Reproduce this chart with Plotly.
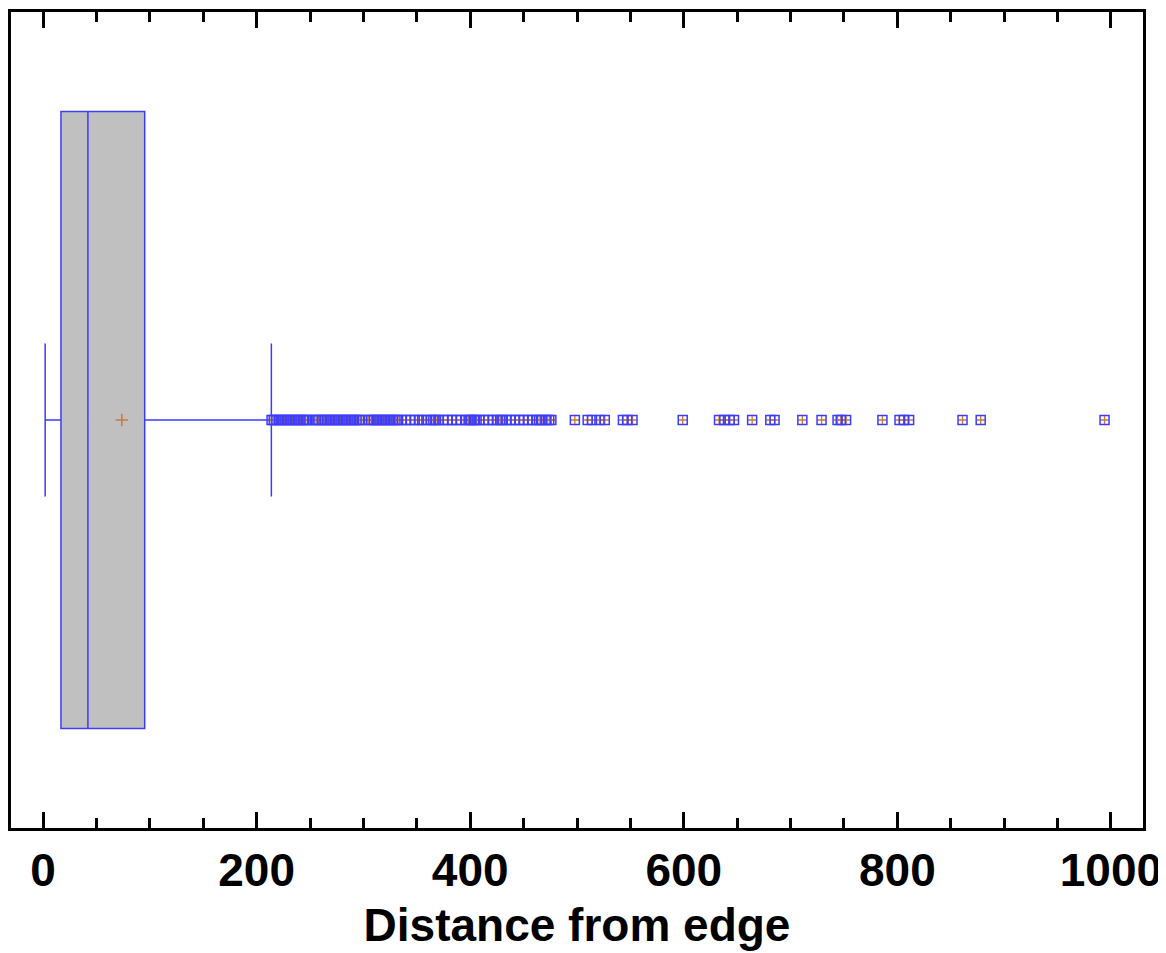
import plotly.graph_objects as go

# Box statistics (Distance from edge)
q1 = [16.8]
median = [42.0]
q3 = [95.2]
lower_fence = [2.0]
upper_fence = [213.8]
mean_value = [73.8]

# Outliers beyond upper whisker
outliers = [
    214, 216, 218.5, 221, 223.5, 226, 228.5, 231, 233.5, 236, 238.5, 241, 243.5, 246, 248.5,
    253, 255.5, 258, 261, 263.5, 266, 268.5, 271, 273.5, 276, 278.5, 281, 283.5, 286, 288.5,
    291, 293.5, 296, 298.5, 305, 307.5, 310, 312.5, 315, 317.5, 320, 322.5, 325, 327.5, 330, 332.5,
    336, 340, 344, 348, 352, 355, 359, 363, 365.5, 368, 370.5, 375, 379, 383, 387, 391, 396,
    398.5, 401, 403.5, 406, 408.5, 413, 417, 421, 425, 428, 430.5, 434, 438, 442, 446, 450,
    454, 458, 462, 464.5, 467, 471, 474, 476,
    498, 510, 514, 521, 526, 543, 547, 552, 599, 633, 638, 643, 647, 664, 681, 685, 711,
    729, 744, 747, 752, 786, 802, 806, 811, 861, 878, 994,
]

x_tick_vals = [0, 200, 400, 600, 800, 1000]
x_tick_text = ["0", "200", "400", "600", "800", "1000"]

BLUE = "rgb(60,60,255)"
ORANGE = "rgb(200,120,60)"

fig = go.Figure()
fig.add_trace(go.Box(
    y=[0], q1=q1, median=median, q3=q3,
    lowerfence=lower_fence, upperfence=upper_fence,
    orientation="h", boxpoints=False,
    fillcolor="#C0C0C0", line=dict(color=BLUE, width=1.5),
    whiskerwidth=0.248, width=0.756, showlegend=False, hoverinfo="skip",
))
# orange crosses inside outlier squares (drawn beneath squares)
fig.add_trace(go.Scatter(
    x=outliers, y=[0] * len(outliers), mode="markers",
    marker=dict(symbol="cross-thin", size=6, line=dict(color=ORANGE, width=1.3)),
    showlegend=False, hoverinfo="skip",
))
fig.add_trace(go.Scatter(
    x=outliers, y=[0] * len(outliers), mode="markers",
    marker=dict(symbol="square-open", size=9, color=BLUE, line=dict(color=BLUE, width=1.5)),
    showlegend=False, hoverinfo="skip",
))
# mean marker
fig.add_trace(go.Scatter(
    x=mean_value, y=[0], mode="markers",
    marker=dict(symbol="cross-thin", size=9, line=dict(color=ORANGE, width=1.5)),
    showlegend=False, hoverinfo="skip",
))

# page body has an 8px default margin, so the figure is sized to fit the window
fig.update_layout(
    template="none",
    width=1158, height=945,
    margin=dict(l=3, r=23, t=4, b=125, autoexpand=False),
    paper_bgcolor="white", plot_bgcolor="white",
    font=dict(family="Liberation Sans, Arial, sans-serif", color="black"),
)
fig.update_xaxes(
    range=[-30, 1030], automargin=False,
    tickvals=x_tick_vals, ticktext=x_tick_text,
    ticks="inside", ticklen=16, tickwidth=3, tickcolor="black",
    minor=dict(dtick=50, tick0=0, ticks="inside", ticklen=10, tickwidth=3, tickcolor="black"),
    showline=True, linewidth=3, linecolor="black", mirror="ticks",
    showgrid=False, zeroline=False,
    tickfont=dict(size=46, weight="bold"),
    title=dict(text="Distance from edge", font=dict(size=46, weight="bold"), standoff=14),
)
fig.update_yaxes(
    range=[-0.5, 0.5], showticklabels=False, ticks="", automargin=False,
    showline=True, linewidth=3, linecolor="black", mirror=True,
    showgrid=False, zeroline=False,
)

fig.write_html("out.html")
